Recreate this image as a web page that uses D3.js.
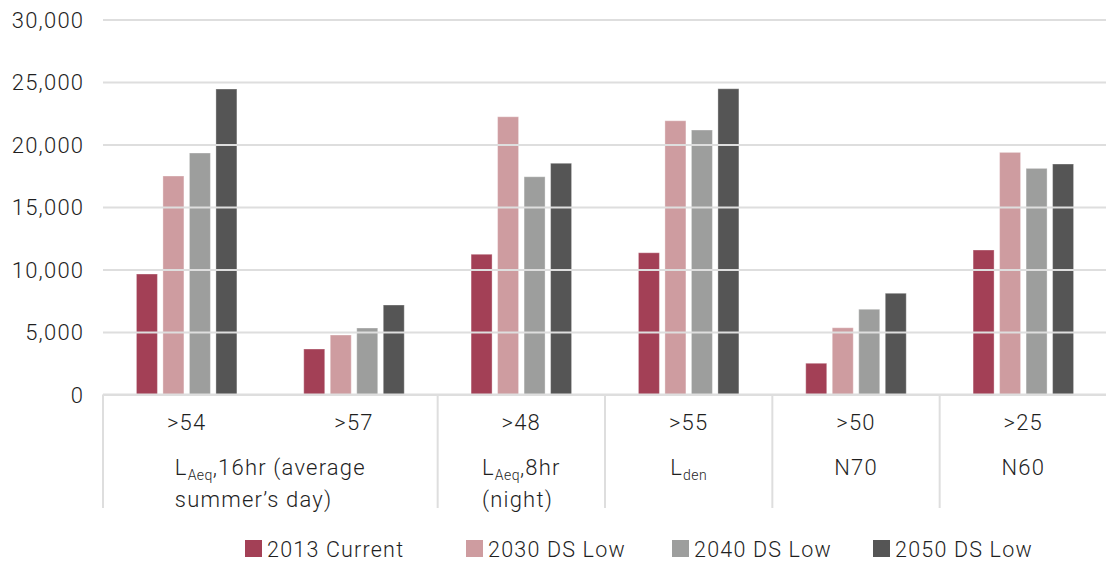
<!DOCTYPE html>
<html>
<head>
<meta charset="utf-8">
<script src="https://cdn.jsdelivr.net/npm/d3@7"></script>
<style>
  html, body { margin: 0; padding: 0; background: #fff; }
  svg text { font-family: "Roboto", "Liberation Sans", sans-serif; font-weight: 300; fill: #1f1f1f; letter-spacing: 1.2px; }
</style>
</head>
<body>
<svg id="chart" width="1106" height="561"></svg>
<script>
// Thresholds (inner axis level) and the metric groups they belong to
const thresholds = [">54", ">57", ">48", ">55", ">50", ">25"];
const groups = [
  { lines: [[["L"], ["Aeq", "sub"], [",16hr (average"]], [["summer’s day)"]]], span: [0, 2] },
  { lines: [[["L"], ["Aeq", "sub"], [",8hr"]], [["(night)"]]], span: [2, 3] },
  { lines: [[["L"], ["den", "sub"]]], span: [3, 4] },
  { lines: [[["N70"]]], span: [4, 5] },
  { lines: [[["N60"]]], span: [5, 6] }
];

const seriesNames = ["2013 Current", "2030 DS Low", "2040 DS Low", "2050 DS Low"];
const seriesColors = ["#a34056", "#ce9ca0", "#9d9e9d", "#555555"];

// Population counts per threshold
const current2013 = [9640, 3640, 11220, 11340, 2500, 11560];
const dsLow2030   = [17480, 4760, 22220, 21900, 5340, 19370];
const dsLow2040   = [19320, 5320, 17420, 21160, 6820, 18090];
const dsLow2050   = [24440, 7160, 18500, 24460, 8100, 18440];

const yTicks = [0, 5000, 10000, 15000, 20000, 25000, 30000];

const seriesValues = [current2013, dsLow2030, dsLow2040, dsLow2050];

const svg = d3.select("#chart");
const plotLeft = 103, plotRight = 1107, plotTop = 19.5, plotBottom = 394.5;

const x0 = d3.scaleBand().domain(thresholds).range([plotLeft, plotRight]).padding(0);
const cw = x0.bandwidth();
const span = 100.5;
const x1 = d3.scaleBand().domain(seriesNames)
  .range([cw / 2 - span / 2, cw / 2 + span / 2])
  .paddingInner(0.2075).paddingOuter(0);
const y = d3.scaleLinear().domain([0, 30000]).range([plotBottom, plotTop]);

// Bars
const gBars = svg.append("g");
thresholds.forEach((t, i) => {
  const g = gBars.append("g").attr("transform", `translate(${x0(t)},0)`);
  g.selectAll("rect")
    .data(seriesNames.map((s, k) => ({ s, k, v: seriesValues[k][i] })))
    .join("rect")
    .attr("x", d => x1(d.s))
    .attr("width", x1.bandwidth())
    .attr("y", d => y(d.v))
    .attr("height", d => y(0) - y(d.v))
    .attr("fill", d => seriesColors[d.k])
    .attr("stroke", "#ffffff")
    .attr("stroke-opacity", 0.35)
    .attr("stroke-width", 1);
});

// Horizontal gridlines over the bars
const yAxis = d3.axisLeft(y).tickValues(yTicks).tickSize(-(plotRight - plotLeft))
  .tickFormat(d3.format(","));
const gy = svg.append("g").attr("transform", `translate(${plotLeft},0)`).call(yAxis);
gy.select(".domain").remove();
gy.attr("font-family", null).attr("font-size", null);
gy.selectAll(".tick line").attr("stroke", "#dedede").attr("stroke-width", 2);
gy.selectAll(".tick text")
  .attr("x", -18.8)
  .attr("dy", "0.36em")
  .attr("font-size", 22)
  .attr("fill", null);

// Category axis baseline and group separators
svg.append("line")
  .attr("x1", plotLeft).attr("x2", plotRight)
  .attr("y1", y(0)).attr("y2", y(0))
  .attr("stroke", "#dedede").attr("stroke-width", 2);

const sepX = [0, 2, 3, 4, 5].map(i => x0(thresholds[i]));
svg.selectAll(".sep").data(sepX).join("line")
  .attr("class", "sep")
  .attr("x1", d => d).attr("x2", d => d)
  .attr("y1", y(0)).attr("y2", 508)
  .attr("stroke", "#dedede").attr("stroke-width", 2);

// Inner level labels
svg.selectAll(".thr").data(thresholds).join("text")
  .attr("class", "thr")
  .attr("x", d => x0(d) + cw / 2)
  .attr("y", 430)
  .attr("text-anchor", "middle")
  .attr("font-size", 22)
  .text(d => d);

// Outer level labels: lines left-aligned, block centred on the group
groups.forEach(gr => {
  const cx = (x0(thresholds[gr.span[0]]) + x0(thresholds[gr.span[1] - 1]) + cw) / 2;
  const block = svg.append("g");
  const texts = gr.lines.map((parts, li) => {
    const t = block.append("text")
      .attr("y", 475 + li * 31.5)
      .attr("font-size", 22);
    let prevSub = false;
    parts.forEach(([str, kind]) => {
      const ts = t.append("tspan").text(str);
      if (kind === "sub") {
        ts.attr("font-size", 14).attr("dy", 5).style("letter-spacing", "0.4px");
        prevSub = true;
      } else if (prevSub) {
        ts.attr("dy", -5);
        prevSub = false;
      }
    });
    return t;
  });
  const w = d3.max(texts, t => t.node().getComputedTextLength());
  texts.forEach(t => t.attr("x", cx - w / 2));
});

// Legend
const legendX = [245, 466, 672, 873];
const lg = svg.append("g");
seriesNames.forEach((s, k) => {
  lg.append("rect")
    .attr("x", legendX[k]).attr("y", 540)
    .attr("width", 17).attr("height", 17)
    .attr("fill", seriesColors[k]);
  lg.append("text")
    .attr("x", legendX[k] + 22).attr("y", 557)
    .attr("font-size", 21.5)
    .text(s);
});
</script>
</body>
</html>
